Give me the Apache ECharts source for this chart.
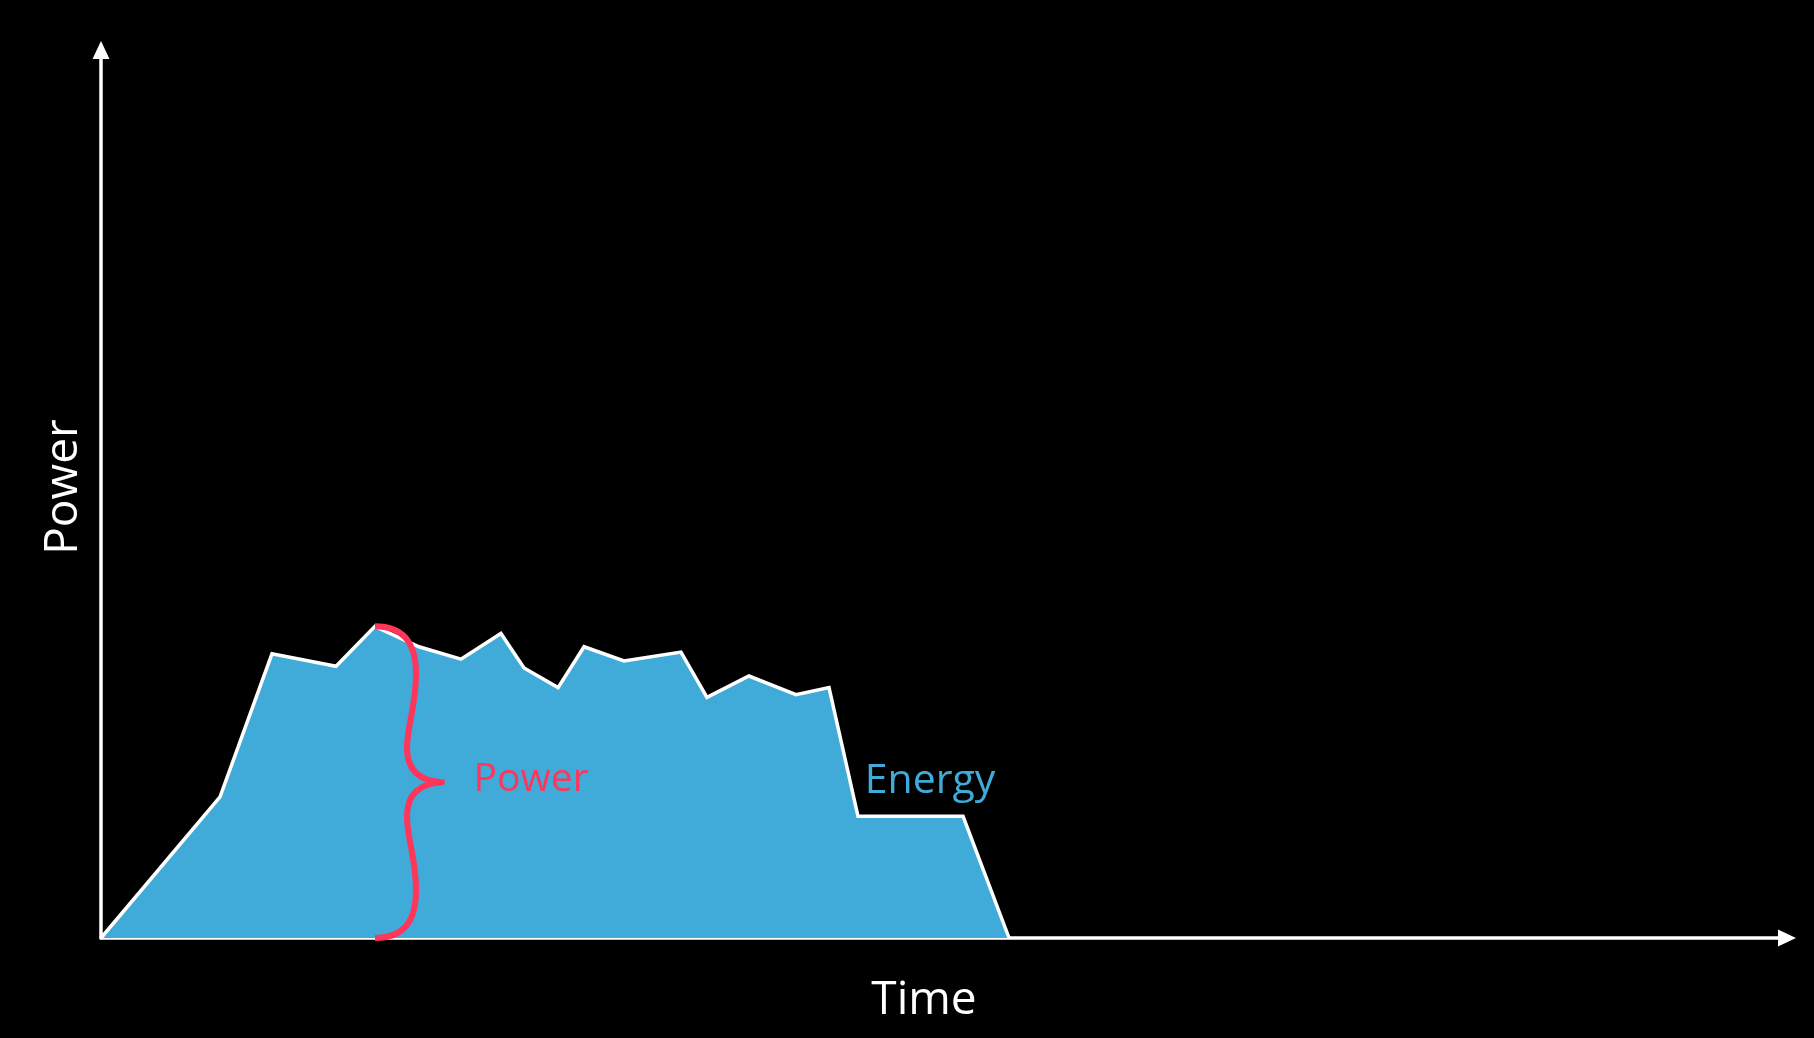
<!DOCTYPE html>
<html>
<head>
<meta charset="utf-8">
<script src="https://cdn.jsdelivr.net/npm/echarts@6/dist/echarts.min.js"></script>
<style>
html,body{margin:0;padding:0;background:#000;}
#chart{width:1814px;height:1038px;}
</style>
</head>
<body>
<div id="chart"></div>
<script>
// Time (x) and power (y) values of the energy profile, in arbitrary units
const timeValues  = [0, 7.06, 10.14, 13.94, 16.25, 18.86, 21.35, 23.72, 25.09, 27.11, 28.65, 31.02, 34.40, 35.94, 38.43, 41.22, 43.18, 44.90, 51.13, 53.86];
const powerValues = [0, 15.9, 32.0, 30.6, 35.1, 32.8, 31.4, 34.3, 30.4, 28.2, 32.8, 31.2, 32.2, 27.1, 29.5, 27.4, 28.2, 13.7, 13.7, 0];

// Brace marking the power at the peak: [time, top, bottom]
const braceData = [[16.25, 35.1, 0]];

// Annotation labels
const labelTexts = ['Power', 'Energy'];
const labelTime  = [22.1, 45.3];
const labelPower = [17.8, 17.6];

const axisNames = { x: 'Time', y: 'Power' };

const BLUE = '#40AAD9';
const RED = '#FF3559';
const FONT = '"Open Sans", "Noto Sans", sans-serif';

const chart = echarts.init(document.getElementById('chart'), null, { renderer: 'canvas' });

const areaData = timeValues.map((t, i) => [t, powerValues[i]]);
const labelData = labelTexts.map((s, i) => [labelTime[i], labelPower[i], i]);

function renderBrace(params, api) {
  const top = api.coord([api.value(0), api.value(1)]);
  const bot = api.coord([api.value(0), api.value(2)]);
  const x0 = top[0], y0 = top[1];
  const H = bot[1] - top[1];
  const s = H / 313;
  const P = (dx, dy) => (x0 + dx).toFixed(1) + ' ' + (y0 + dy * s).toFixed(1);
  const m = 156.5;
  const d = 'M ' + P(0, 0) +
    ' C ' + P(26, 0) + ', ' + P(41, 14) + ', ' + P(41, 48) +
    ' C ' + P(41, 80) + ', ' + P(32, 100) + ', ' + P(32, 122) +
    ' C ' + P(32, 146) + ', ' + P(46, m - 1) + ', ' + P(67, m) +
    ' C ' + P(46, m + 1) + ', ' + P(32, 167) + ', ' + P(32, 191) +
    ' C ' + P(32, 213) + ', ' + P(41, 233) + ', ' + P(41, 265) +
    ' C ' + P(41, 299) + ', ' + P(26, 313) + ', ' + P(0, 313);
  return {
    type: 'path',
    shape: { pathData: d },
    style: { stroke: RED, lineWidth: 6, fill: 'none', lineCap: 'butt', lineJoin: 'round' }
  };
}

function renderLabel(params, api) {
  const p = api.coord([api.value(0), api.value(1)]);
  const idx = api.value(2);
  return {
    type: 'text',
    x: p[0], y: p[1],
    style: {
      text: labelTexts[idx],
      fill: idx === 0 ? RED : BLUE,
      font: (idx === 0 ? '39px ' : '41px ') + FONT,
      align: 'left',
      verticalAlign: 'middle'
    }
  };
}

chart.setOption({
  animation: false,
  backgroundColor: '#000',
  grid: { left: 101, right: 27, top: 50, bottom: 100, containLabel: false },
  xAxis: {
    type: 'value', min: 0, max: 100,
    axisLine: { show: true, onZero: false, symbol: ['none', 'triangle'], symbolSize: [17, 18],
      lineStyle: { color: '#fff', width: 3.5 } },
    axisTick: { show: false }, axisLabel: { show: false }, splitLine: { show: false },
    name: axisNames.x, nameLocation: 'middle', nameGap: 40,
    nameTextStyle: { color: '#fff', fontSize: 46, fontFamily: FONT, padding: [0, 40, 0, 0] }
  },
  yAxis: {
    type: 'value', min: 0, max: 100,
    axisLine: { show: true, onZero: false, symbol: ['none', 'triangle'], symbolSize: [17, 18],
      lineStyle: { color: '#fff', width: 3.5 } },
    axisTick: { show: false }, axisLabel: { show: false }, splitLine: { show: false },
    name: axisNames.y, nameLocation: 'middle', nameGap: 14,
    nameTextStyle: { color: '#fff', fontSize: 46, fontFamily: FONT, padding: [0, 0, 0, 14] }
  },
  series: [
    {
      type: 'line', data: areaData, symbol: 'none', smooth: false,
      lineStyle: { color: '#fff', width: 3.5, join: 'miter' },
      areaStyle: { color: BLUE, opacity: 1 },
      z: 2
    },
    {
      type: 'custom', coordinateSystem: 'cartesian2d', data: braceData,
      renderItem: renderBrace, z: 5, silent: true
    },
    {
      type: 'custom', coordinateSystem: 'cartesian2d', data: labelData,
      renderItem: renderLabel, z: 6, silent: true
    }
  ]
});
</script>
</body>
</html>
